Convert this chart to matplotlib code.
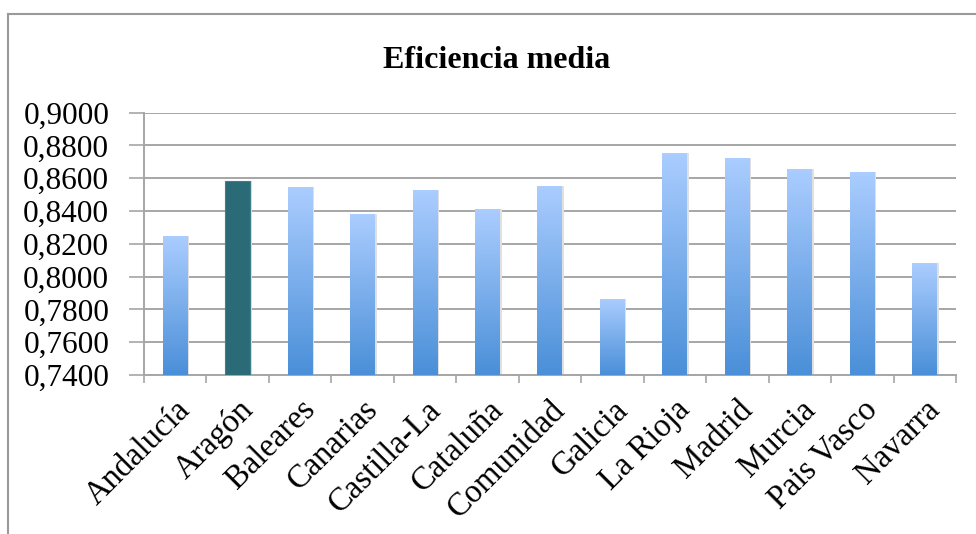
import numpy as np
import matplotlib
matplotlib.use('Agg')
import matplotlib.pyplot as plt
from matplotlib.colors import LinearSegmentedColormap
from matplotlib.lines import Line2D

# Regional mean efficiency values
regions = ['Andalucía', 'Aragón', 'Baleares', 'Canarias', 'Castilla-La', 'Cataluña',
           'Comunidad', 'Galicia', 'La Rioja', 'Madrid', 'Murcia', 'Pais Vasco', 'Navarra']
efficiency = [0.8248, 0.8583, 0.8545, 0.8380, 0.8527, 0.8411,
              0.8553, 0.7864, 0.8756, 0.8726, 0.8658, 0.8640, 0.8083]
highlight = 'Aragón'
y_ticks = [0.74, 0.76, 0.78, 0.80, 0.82, 0.84, 0.86, 0.88, 0.90]

plt.rcParams['font.family'] = ['Liberation Serif', 'DejaVu Serif']

fig = plt.figure(figsize=(9.76, 5.34), dpi=100)
ax = fig.add_axes([0.1475, 0.2978, 0.8320, 0.4912])

grid_col = '#a6a6a6'
blues = LinearSegmentedColormap.from_list('bar_blue', ['#4a8fd8', '#abcdff'])
gradient = np.linspace(0, 1, 256).reshape(-1, 1)

x = np.arange(len(regions))
width = 0.4
bars = ax.bar(x, np.array(efficiency) - y_ticks[0], width, bottom=y_ticks[0],
              color='none', edgecolor='none', zorder=3)

for xi, bar, name, val in zip(x, bars, regions, efficiency):
    # soft drop shadow behind each bar
    ax.bar(xi + 0.025, val - y_ticks[0], width, bottom=y_ticks[0],
           color='#e0e0e0', edgecolor='none', zorder=2)
    if name == highlight:
        bar.set_facecolor('#2b6b78')
        bar.set_edgecolor('#3f7f8c')
        bar.set_linewidth(0.8)
    else:
        im = ax.imshow(gradient, cmap=blues, origin='lower', aspect='auto',
                       extent=[xi - width / 2, xi + width / 2, y_ticks[0], val],
                       zorder=3)
        im.set_clip_path(bar)

ax.set_xlim(-0.5, len(regions) - 0.5)
ax.set_ylim(y_ticks[0], y_ticks[-1])

ax.set_yticks(y_ticks)
ax.set_yticklabels([f'{v:.4f}'.replace('.', ',') for v in y_ticks], fontsize=22.5)
ax.yaxis.grid(True, color=grid_col, linewidth=1.4, zorder=0)
ax.set_axisbelow(True)

# category labels at centres, tick marks at the category boundaries
ax.set_xticks(x)
ax.set_xticklabels(regions, rotation=45, ha='right', rotation_mode='anchor', fontsize=23.5)
ax.tick_params(axis='x', which='major', length=0, pad=14)
ax.set_xticks(np.arange(len(regions) + 1) - 0.5, minor=True)
ax.tick_params(axis='x', which='minor', length=6, width=1.2, color=grid_col, direction='out')
ax.tick_params(axis='y', length=11, width=1.2, color=grid_col, pad=14)

for side in ['top', 'right']:
    ax.spines[side].set_visible(False)
for side in ['left', 'bottom']:
    ax.spines[side].set_color(grid_col)
    ax.spines[side].set_linewidth(1.4)

fig.text(0.509, 0.887, 'Eficiencia media', ha='center', va='center',
         fontsize=23, fontweight='bold')

# outer chart frame
fig.add_artist(Line2D([8 / 976, 8 / 976], [0, 1 - 14 / 534], color='#9a9a9a', linewidth=1.5))
fig.add_artist(Line2D([8 / 976, 1], [1 - 14 / 534, 1 - 14 / 534], color='#9a9a9a', linewidth=1.5))

fig.savefig('out.png', dpi=100)
